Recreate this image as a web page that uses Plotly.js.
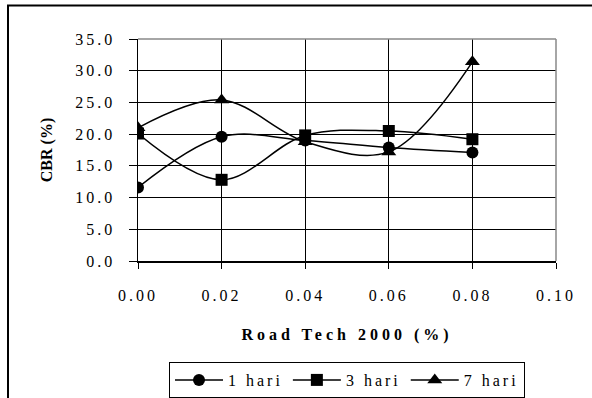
<!DOCTYPE html>
<html>
<head>
<meta charset="utf-8">
<script src="https://cdn.plot.ly/plotly-3.0.1.min.js"></script>
<style>
  html, body { margin: 0; padding: 0; background: #fff; overflow: hidden; }
  #chart { width: 592px; height: 398px; }
  .xtick text, .ytick text, .legendtext { letter-spacing: 3px; }
  .g-xtitle text { letter-spacing: 4px; }
</style>
</head>
<body>
<div id="chart"></div>
<script>
const xValues = [0.00, 0.02, 0.04, 0.06, 0.08];
const seriesNames = ['1 hari', '3 hari', '7 hari'];
const hari1 = [11.6, 19.6, 19.0, 17.9, 17.1];
const hari3 = [20.1, 12.8, 19.8, 20.5, 19.2];
const hari7 = [21.0, 25.4, 18.8, 17.2, 31.4];
const symbols = ['circle', 'square', 'triangle-up'];

const font = 'Liberation Serif, Times New Roman, serif';
const traces = [hari1, hari3, hari7].map((ys, i) => ({
  x: xValues, y: ys, name: seriesNames[i], type: 'scatter', mode: 'lines+markers',
  line: {color: '#000', width: 1.5, shape: 'spline', smoothing: 1},
  marker: {symbol: symbols[i], size: i === 2 ? 13 : 12, color: '#000'}
}));

const layout = {
  width: 592, height: 398,
  margin: {l: 138, r: 36, t: 39, b: 137, autoexpand: false},
  paper_bgcolor: '#fff', plot_bgcolor: '#fff',
  font: {family: font, size: 16, color: '#000'},
  showlegend: true,
  legend: {
    orientation: 'h', x: 0.5, xanchor: 'center', y: -0.455, yanchor: 'top',
    bordercolor: '#000', borderwidth: 1, font: {family: font, size: 16, color: '#000'},
    itemwidth: 48, tracegroupgap: 0
  },
  xaxis: {
    range: [0, 0.1], dtick: 0.02, tick0: 0, tickformat: '.2f',
    showgrid: true, gridcolor: '#000', gridwidth: 1,
    showline: true, linecolor: '#000', linewidth: 1.5,
    ticks: 'outside', ticklen: 6, tickcolor: '#000', ticklabelstandoff: 13,
    zeroline: false, fixedrange: true, automargin: false,
    title: {text: 'Road Tech 2000 (%)', font: {family: font, size: 16, weight: 'bold'}, standoff: 26}
  },
  yaxis: {
    range: [0, 35], dtick: 5, tick0: 0, tickformat: '.1f',
    showgrid: true, gridcolor: '#000', gridwidth: 1,
    showline: true, linecolor: '#000', linewidth: 1.5,
    ticks: 'outside', ticklen: 8, tickcolor: '#000', ticklabelstandoff: 10,
    zeroline: false, fixedrange: true, automargin: false,
    title: {text: 'CBR (%)', font: {family: font, size: 16, weight: 'bold'}, standoff: 18}
  },
  shapes: [
    {type: 'line', xref: 'paper', yref: 'paper', x0: 0, x1: 1, y0: 1, y1: 1, line: {color: '#888', width: 1.5}},
    {type: 'line', xref: 'paper', yref: 'paper', x0: 1, x1: 1, y0: 0, y1: 1, line: {color: '#888', width: 1.5}},
    {type: 'rect', xref: 'paper', yref: 'paper', x0: -0.311, x1: 1.2, y0: -0.7, y1: 1.151, line: {color: '#000', width: 2}, fillcolor: 'rgba(0,0,0,0)'}
  ]
};

Plotly.newPlot('chart', traces, layout, {staticPlot: true, displayModeBar: false});
</script>
</body>
</html>
